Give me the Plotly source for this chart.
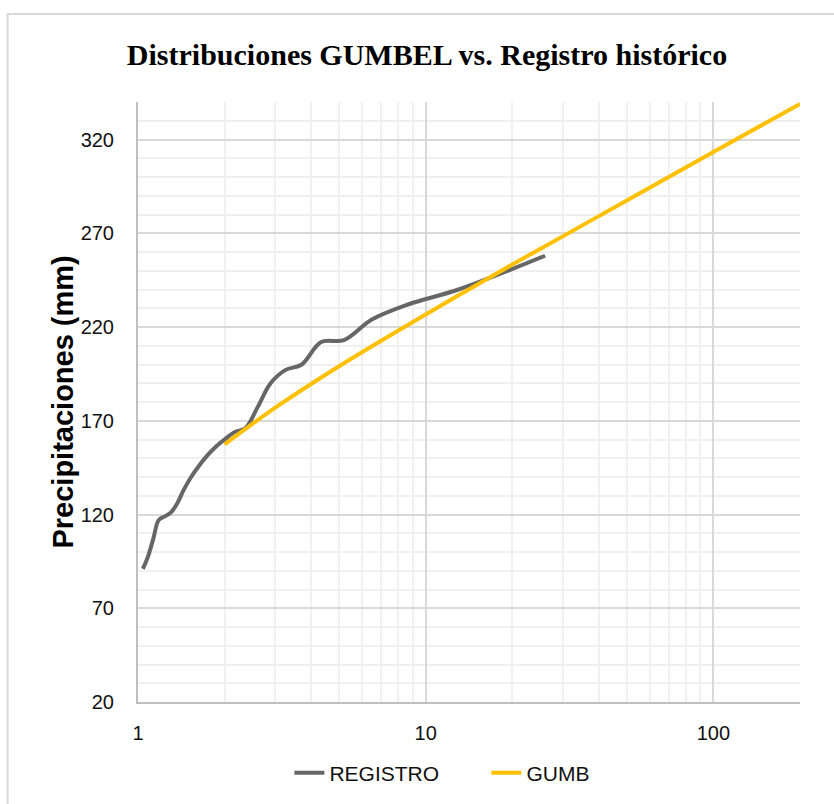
import plotly.graph_objects as go

# ---- data ----
registro_T = [1.04, 1.08, 1.13, 1.18, 1.24, 1.30, 1.37, 1.44, 1.53, 1.63, 1.73, 1.86, 2.00,
              2.17, 2.36, 2.60, 2.89, 3.25, 3.71, 4.33, 5.20, 6.50, 8.67, 13.00, 26.00]
registro_mm = [91, 97, 107, 117, 119, 121, 126, 133, 140, 146, 151, 156, 160,
               164, 166, 177, 190, 197, 200, 212, 213, 224, 232, 240, 258]

gumb_T = [2, 3, 5, 10, 20, 25, 50, 100, 200]
gumb_mm = [157.4, 177.0, 199.1, 226.7, 253.3, 261.6, 287.5, 313.3, 339.0]

title_text = "Distribuciones GUMBEL vs. Registro histórico"
y_title = "Precipitaciones (mm)"
x_tickvals = [1, 10, 100]
x_ticktext = ["1", "10", "100"]

W, H = 834, 804
L, R, T, B = 137.5, 34, 102, 102
pw, ph = W - L - R, H - T - B

def px_x(p):
    return (p - L) / pw

def px_y(p):
    return (H - B - p) / ph

fig = go.Figure()
fig.add_trace(go.Scatter(x=registro_T, y=registro_mm, name="REGISTRO", mode="lines",
                         line=dict(color="#666666", width=4, shape="spline", smoothing=1)))
fig.add_trace(go.Scatter(x=gumb_T, y=gumb_mm, name="GUMB", mode="lines",
                         line=dict(color="#FFC000", width=4, shape="spline", smoothing=1)))

fig.update_layout(
    width=W, height=H,
    margin=dict(l=L, r=R, t=T, b=B, autoexpand=False),
    paper_bgcolor="white", plot_bgcolor="white",
    title=dict(text="<b>" + title_text + "</b>", x=427 / W, xanchor="center",
               y=1 - 54 / H, yanchor="middle",
               font=dict(family="Liberation Serif, Times New Roman, serif", size=30, color="black")),
    legend=dict(orientation="h", x=px_x(289), xanchor="left", y=px_y(773), yanchor="middle",
                entrywidth=152, entrywidthmode="pixels",
                font=dict(family="Liberation Sans, Arial, sans-serif", size=21, color="#111111"),
                bgcolor="rgba(0,0,0,0)"),
    font=dict(family="Liberation Sans, Arial, sans-serif", size=20, color="#111111"),
)

fig.update_xaxes(type="log", range=[0, 2.30103], tickvals=x_tickvals, ticktext=x_ticktext,
                 showgrid=True, gridcolor="#D9D9D9", gridwidth=1.5,
                 minor=dict(dtick="D1", showgrid=True, gridcolor="#F0F0F0", gridwidth=1.5, ticks=""),
                 showline=True, linecolor="#BFBFBF", linewidth=2, zeroline=False,
                 ticks="", ticklabelstandoff=12,
                 tickfont=dict(size=20, family="Liberation Sans, Arial, sans-serif", color="#111111"))
fig.update_yaxes(range=[20, 340], tick0=20, dtick=50,
                 showgrid=True, gridcolor="#D9D9D9", gridwidth=1.5,
                 minor=dict(dtick=10, tick0=20, showgrid=True, gridcolor="#F0F0F0", gridwidth=1.5, ticks=""),
                 showline=True, linecolor="#BFBFBF", linewidth=2, zeroline=False,
                 ticks="", ticklabelstandoff=18,
                 tickfont=dict(size=20, family="Liberation Sans, Arial, sans-serif", color="#111111"))

fig.add_annotation(text="<b>" + y_title + "</b>", textangle=-90, xref="paper", yref="paper",
                   x=px_x(62), y=px_y(402), xanchor="center", yanchor="middle", showarrow=False,
                   font=dict(family="Liberation Sans, Arial, sans-serif", size=29, color="black"))

# outer chart border
fig.add_shape(type="rect", xref="paper", yref="paper",
              x0=px_x(7), y0=px_y(14), x1=px_x(845), y1=px_y(815),
              line=dict(color="#D9D9D9", width=2), layer="below")

fig.write_html("out.html")
